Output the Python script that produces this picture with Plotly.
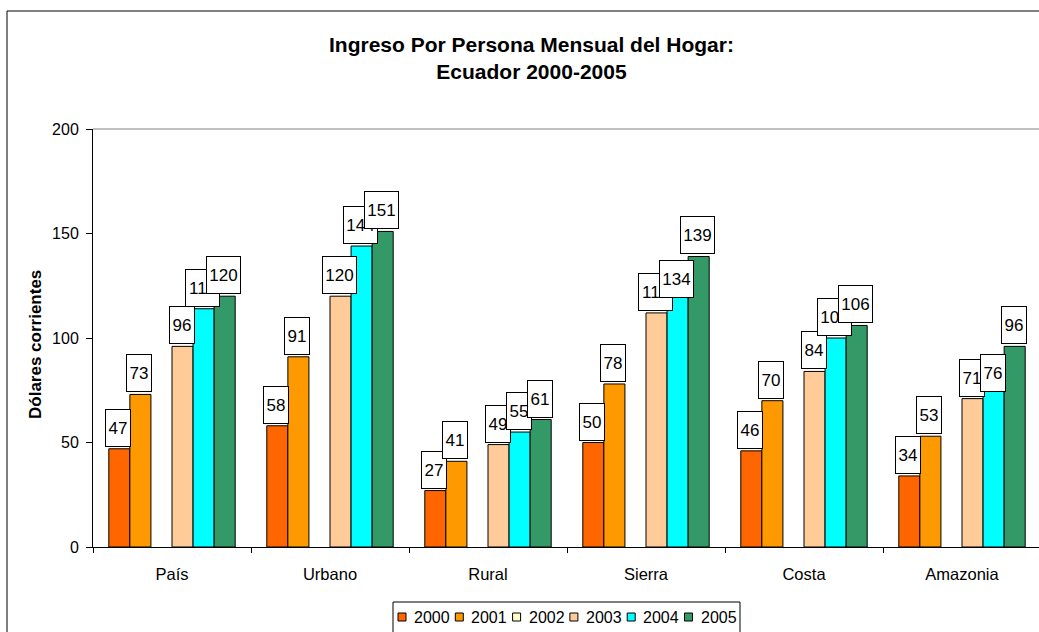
import plotly.graph_objects as go

# data
regions = ["País", "Urbano", "Rural", "Sierra", "Costa", "Amazonia"]
years = ["2000", "2001", "2002", "2003", "2004", "2005"]
y2000 = [47, 58, 27, 50, 46, 34]
y2001 = [73, 91, 41, 78, 70, 53]
y2002 = [None, None, None, None, None, None]
y2003 = [96, 120, 49, 112, 84, 71]
y2004 = [114, 144, 55, 134, 100, 76]
y2005 = [120, 151, 61, 139, 106, 96]
series = [y2000, y2001, y2002, y2003, y2004, y2005]
colors = ["#FF6600", "#FF9900", "#FFFFCC", "#FFCC99", "#00FFFF", "#339966"]

FONT = "Arial, Liberation Sans, sans-serif"
W, H = 1039, 632
L, T, B = 93, 129, 85
PW, PH = W - L, H - T - B
BARGAP = 0.2

# a couple of labels were dragged down in the original (series, category): px
LABEL_NUDGE = {(4, 3): -31, (4, 5): -4}


def px_x(px):
    return (px - L) / PW


def px_y(py):
    return (H - B - py) / PH


fig = go.Figure()
for name, vals, col in zip(years, series, colors):
    fig.add_trace(go.Bar(
        name=name, x=regions, y=vals,
        marker=dict(color=col, line=dict(color="black", width=1)),
        showlegend=False,
    ))

# boxed value labels above each bar
n = len(series)
bw = (1 - BARGAP) / n
annotations = []
for i, vals in enumerate(series):
    off = -(1 - BARGAP) / 2 + bw * (i + 0.5)
    for j, v in enumerate(vals):
        if v is None:
            continue
        txt = str(v)
        annotations.append(dict(
            x=j + off, y=v, xref="x", yref="y", text=txt,
            showarrow=False, yanchor="bottom",
            yshift=LABEL_NUDGE.get((i, j), 2), xshift=-1,
            font=dict(family=FONT, size=17, color="black"),
            bgcolor="white", bordercolor="black", borderwidth=1, borderpad=2,
            width=round(8.5 * len(txt)) + 3, height=32,
        ))

# title and y-axis title
annotations.append(dict(
    x=px_x(531), y=px_y(58), xref="paper", yref="paper", showarrow=False,
    text="<b>Ingreso Por Persona Mensual del Hogar:<br>Ecuador 2000-2005</b>",
    font=dict(family=FONT, size=21, color="black"),
    xanchor="center", yanchor="middle",
))
annotations.append(dict(
    x=px_x(35), y=px_y(345), xref="paper", yref="paper", showarrow=False,
    text="<b>Dólares corrientes</b>", textangle=-90,
    font=dict(family=FONT, size=17, color="black"),
    xanchor="center", yanchor="middle",
))

# hand-built legend to match the compact original
shapes = [
    dict(type="rect", xref="paper", yref="paper", x0=px_x(7), y0=px_y(700),
         x1=px_x(1100), y1=px_y(11), line=dict(color="black", width=1)),
    dict(type="line", xref="paper", yref="paper", x0=0, x1=1, y0=1, y1=1,
         line=dict(color="#808080", width=1)),
    dict(type="rect", xref="paper", yref="paper", x0=px_x(393), y0=px_y(660),
         x1=px_x(740), y1=px_y(602), line=dict(color="black", width=1),
         fillcolor="white"),
]
pitch = 57.3
for k, (name, col) in enumerate(zip(years, colors)):
    sx = 398 + pitch * k
    shapes.append(dict(
        type="rect", xref="paper", yref="paper",
        x0=px_x(sx), x1=px_x(sx + 8), y0=px_y(621), y1=px_y(613),
        line=dict(color="black", width=1), fillcolor=col,
    ))
    annotations.append(dict(
        x=px_x(sx + 14), y=px_y(617), xref="paper", yref="paper",
        text=name, showarrow=False, xanchor="left", yanchor="middle",
        font=dict(family=FONT, size=16, color="black"),
    ))

fig.update_layout(
    width=W, height=H,
    barmode="group", bargap=BARGAP, bargroupgap=0,
    margin=dict(l=L, r=0, t=T, b=B),
    plot_bgcolor="white", paper_bgcolor="white",
    font=dict(family=FONT, size=16, color="black"),
    annotations=annotations, shapes=shapes,
    showlegend=False,
)
fig.update_xaxes(
    range=[-0.5, -0.5 + PW / 158], showline=True, linecolor="black", linewidth=1,
    ticks="outside", tickson="boundaries", ticklen=5, tickcolor="black",
    ticklabelstandoff=12, showgrid=False, tickfont=dict(size=16.5),
)
fig.update_yaxes(
    range=[0, 200], tickvals=[0, 50, 100, 150, 200],
    showline=True, linecolor="black", linewidth=1,
    ticks="outside", ticklen=6, tickcolor="black", ticklabelstandoff=4,
    showgrid=False, zeroline=False,
)

fig.write_html("out.html", config={"displayModeBar": False},
               post_script="document.body.style.margin='0px';")
